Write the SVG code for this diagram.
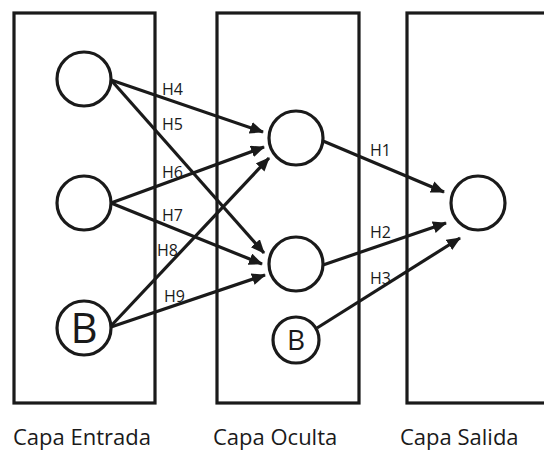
<svg xmlns="http://www.w3.org/2000/svg" width="544" height="459" viewBox="0 0 544 459">
<style>
.box{fill:none;stroke:#1a1a1a;stroke-width:3.2}
.node{fill:#fff;stroke:#1a1a1a;stroke-width:3.2}
.edge{fill:none;stroke:#1a1a1a;stroke-width:3.2;marker-end:url(#arr)}
.lbl{font-family:"Open Sans","DejaVu Sans",sans-serif;font-size:16px;fill:#1a1a1a}
.cap{font-family:"Open Sans","DejaVu Sans",sans-serif;font-size:22px;fill:#1a1a1a}
.b{font-family:"Open Sans","DejaVu Sans",sans-serif;fill:#1a1a1a;text-anchor:middle}
</style>
<defs>
<marker id="arr" markerUnits="userSpaceOnUse" markerWidth="16" markerHeight="14" refX="13" refY="6" orient="auto">
<path d="M0,0 L14,6 L0,12 z" fill="#1a1a1a"/>
</marker>
</defs>
<rect fill="#fff" x="0" y="0" width="544" height="459"/>
<g id="layers">
<rect class="box" x="14" y="13" width="141" height="390"/>
<rect class="box" x="217" y="13" width="142" height="390"/>
<rect class="box" x="407" y="13" width="150" height="390"/>
</g>
<g id="connectors">
<line class="edge" x1="111" y1="80" x2="263" y2="132"/>
<line class="edge" x1="111" y1="80" x2="264" y2="253"/>
<line class="edge" x1="111" y1="203" x2="264" y2="147"/>
<line class="edge" x1="111" y1="203" x2="262" y2="264"/>
<line class="edge" x1="110" y1="327" x2="269" y2="158"/>
<line class="edge" x1="111" y1="327" x2="265" y2="275"/>
<line class="edge" x1="323" y1="141" x2="444" y2="192"/>
<line class="edge" x1="323" y1="265" x2="446" y2="223"/>
<line class="edge" x1="317" y1="328" x2="460" y2="238"/>
</g>
<g id="edge-labels">
<text class="lbl" x="162" y="95">H4</text>
<text class="lbl" x="162" y="130">H5</text>
<text class="lbl" x="162" y="178">H6</text>
<text class="lbl" x="162" y="221">H7</text>
<text class="lbl" x="157" y="256">H8</text>
<text class="lbl" x="164" y="302">H9</text>
<text class="lbl" x="370" y="156">H1</text>
<text class="lbl" x="370" y="238">H2</text>
<text class="lbl" x="370" y="284">H3</text>
</g>
<g id="in1"><circle class="node" cx="84" cy="79" r="27"/></g>
<g id="in2"><circle class="node" cx="84" cy="203" r="27"/></g>
<g id="inB"><circle class="node" cx="84" cy="328" r="27"/><text class="b" x="84" y="343" font-size="42">B</text></g>
<g id="h1"><circle class="node" cx="296" cy="138" r="27"/></g>
<g id="h2"><circle class="node" cx="296" cy="264" r="27"/></g>
<g id="hB"><circle class="node" cx="296" cy="340" r="23"/><text class="b" x="296" y="350" font-size="28">B</text></g>
<g id="out"><circle class="node" cx="478" cy="203" r="27"/></g>
<g id="captions">
<text class="cap" x="13" y="445">Capa Entrada</text>
<text class="cap" x="213" y="445">Capa Oculta</text>
<text class="cap" x="400" y="445">Capa Salida</text>
</g>
</svg>
